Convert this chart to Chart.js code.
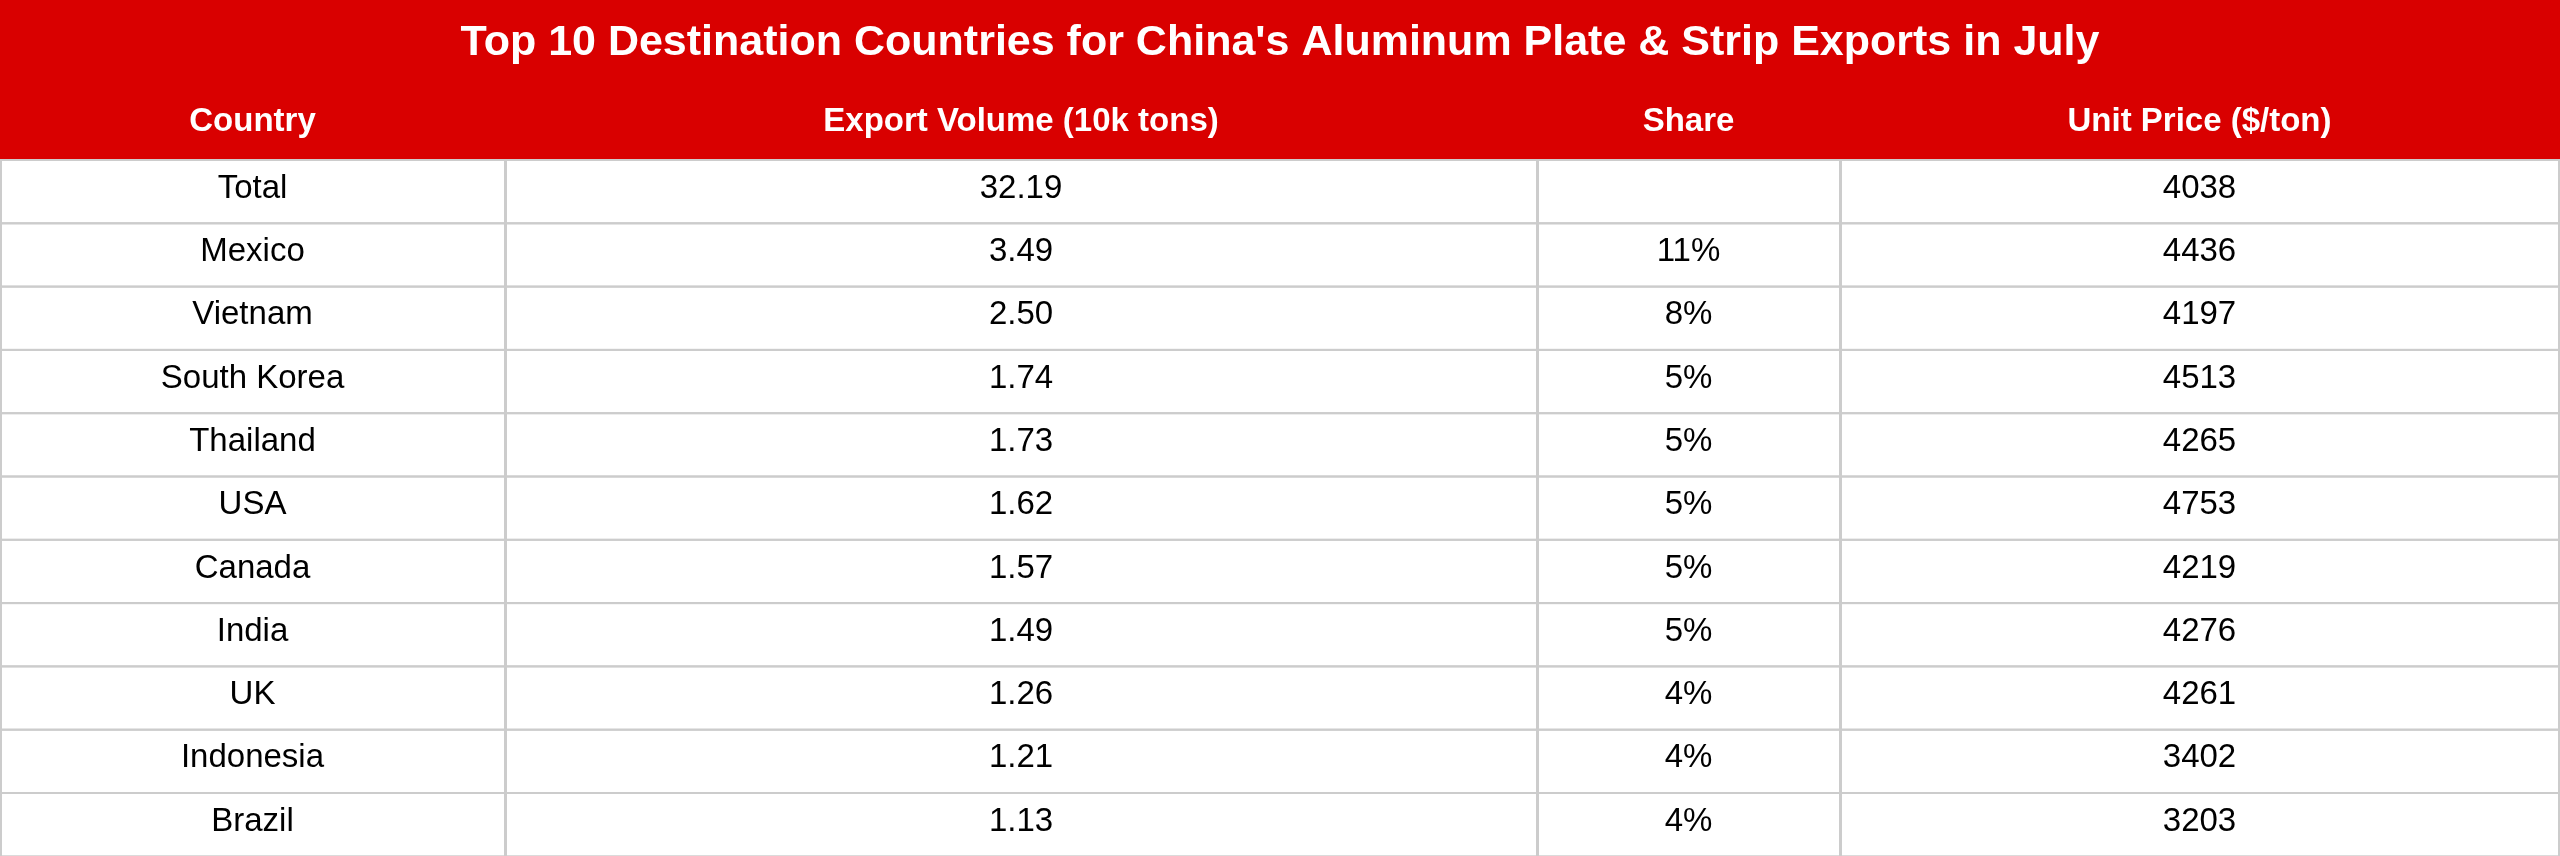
<!DOCTYPE html>
<html>
<head>
<meta charset="utf-8">
<script src="https://cdn.jsdelivr.net/npm/chart.js@4"></script>
<style>html,body{margin:0;padding:0;background:#fff;overflow:hidden}</style>
</head>
<body>
<canvas id="table-chart" width="2560" height="856"></canvas>
<script>
const title = "Top 10 Destination Countries for China's Aluminum Plate & Strip Exports in July";
const headers = ["Country", "Export Volume (10k tons)", "Share", "Unit Price ($/ton)"];
const countries = ["Total", "Mexico", "Vietnam", "South Korea", "Thailand", "USA", "Canada", "India", "UK", "Indonesia", "Brazil"];
const volumes = ["32.19", "3.49", "2.50", "1.74", "1.73", "1.62", "1.57", "1.49", "1.26", "1.21", "1.13"];
const shares = ["", "11%", "8%", "5%", "5%", "5%", "5%", "5%", "4%", "4%", "4%"];
const prices = ["4038", "4436", "4197", "4513", "4265", "4753", "4219", "4276", "4261", "3402", "3203"];

// layout in canvas units (scale values)
const colEdges = [0, 505, 1537, 1840, 2559];
const titleBottom = 82, headerBottom = 160, rowH = 63.3;

const tablePlugin = {
  id: "tablePlugin",
  afterDraw(chart) {
    const ctx = chart.ctx, xs = chart.scales.x, ys = chart.scales.y;
    const X = v => xs.getPixelForValue(v), Y = v => ys.getPixelForValue(v);
    ctx.save();
    ctx.fillStyle = "#d90000";
    ctx.fillRect(X(0), Y(0), X(2560) - X(0), Y(headerBottom) - Y(0));
    ctx.textAlign = "center";
    ctx.textBaseline = "middle";
    ctx.fillStyle = "#fff";
    ctx.font = "bold 43px 'Liberation Sans', Arial, sans-serif";
    ctx.fillText(title, X(1280), Y(43));
    ctx.font = "bold 33px 'Liberation Sans', Arial, sans-serif";
    headers.forEach((h, i) => ctx.fillText(h, X((colEdges[i] + colEdges[i + 1]) / 2), Y(122)));
    const cols = [countries, volumes, shares, prices];
    ctx.font = "33px 'Liberation Sans', Arial, sans-serif";
    ctx.strokeStyle = "#cccccc";
    ctx.lineWidth = 2;
    countries.forEach((c, r) => {
      const top = headerBottom + r * rowH, bot = top + rowH;
      cols.forEach((col, ci) => {
        ctx.strokeRect(X(colEdges[ci]) + 1, Y(top), X(colEdges[ci + 1]) - X(colEdges[ci]) - 1, Y(bot) - Y(top));
        ctx.fillStyle = "#000";
        ctx.fillText(col[r], X((colEdges[ci] + colEdges[ci + 1]) / 2), Y(top + rowH / 2 - 3));
      });
    });
    ctx.restore();
  }
};

new Chart(document.getElementById("table-chart").getContext("2d"), {
  type: "scatter",
  data: { datasets: [{ data: [] }] },
  options: {
    responsive: false,
    devicePixelRatio: 1,
    animation: false,
    layout: { padding: 0 },
    plugins: { legend: { display: false }, tooltip: { enabled: false } },
    scales: {
      x: { type: "linear", min: 0, max: 2560, display: false },
      y: { type: "linear", min: 0, max: 856, reverse: true, display: false },
    },
  },
  plugins: [tablePlugin],
});
</script>
</body>
</html>
